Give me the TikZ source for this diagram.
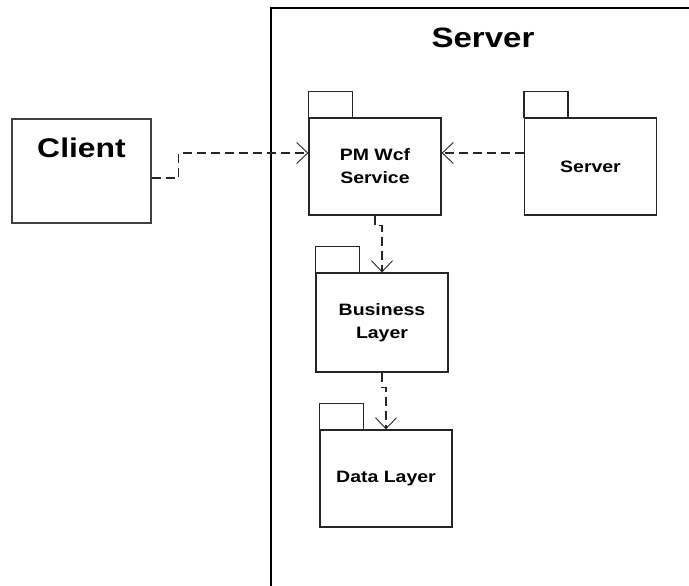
\documentclass[tikz,border=0pt]{standalone}
\usepackage{fontspec}
\setmainfont{Liberation Sans}
\newfontfamily\diagfont[FakeStretch=1.18]{Liberation Sans}
\usetikzlibrary{positioning}
\usetikzlibrary{arrows.meta}

\begin{document}
\begin{tikzpicture}[x=1pt, y=-1pt,
	pkg/.style={draw=black!85, line width=1.3pt, rectangle, inner sep=0pt,
		minimum width=132pt, minimum height=97pt, align=center,
		font=\diagfont\bfseries\fontsize{16.5}{23}\selectfont},
	dep/.style={draw=black!85, line width=1.2pt, dash pattern=on 9pt off 5pt,
		-{Straight Barb[length=11pt, width=21pt, line width=0.9pt]}}]
	\useasboundingbox (0,0) rectangle (689,586);
	\clip (0,0) rectangle (689,586);
	
	% Server frame
	\draw[line width=1.8pt] (271,8) rectangle (720,620);
	\node[font=\diagfont\bfseries\fontsize{28}{32}\selectfont] (srvtitle) at (483,38) {Server};
	
	% Nodes
	\node[draw=black!75, line width=1.5pt, rectangle, minimum width=139pt, minimum height=104pt] (client) at (81.5,171) {};
	\node[font=\diagfont\bfseries\fontsize{27}{30}\selectfont, below=16pt of client.north] (clientlbl) {Client};
	\node[pkg] (pm) at (375,166.5) {PM Wcf\\Service};
	\node[pkg] (srv) at (590.5,166.5) {Server};
	\node[pkg, minimum height=99pt] (bl) at (382,322.5) {Business\\Layer};
	\node[pkg] (dl) at (386,478.5) {Data Layer};
	
	% Tabs
	\foreach \p in {pm, srv, bl, dl}
		\draw[draw=black!85, line width=1.3pt] (\p.north west) rectangle ++(44,-26);
	
	% Arrows
	\draw[dep] ([yshift=-7pt]client.east) -- ++(27,0) |- ([yshift=13.5pt]pm.west);
	\draw[dep] ([yshift=13.5pt]srv.west) -- ([yshift=13.5pt]pm.east);
	\draw[dep] (pm.south) -- ++(0,10) -| (bl.north);
	\draw[dep] (bl.south) -- ++(0,15) -| (dl.north);
\end{tikzpicture}
\end{document}
